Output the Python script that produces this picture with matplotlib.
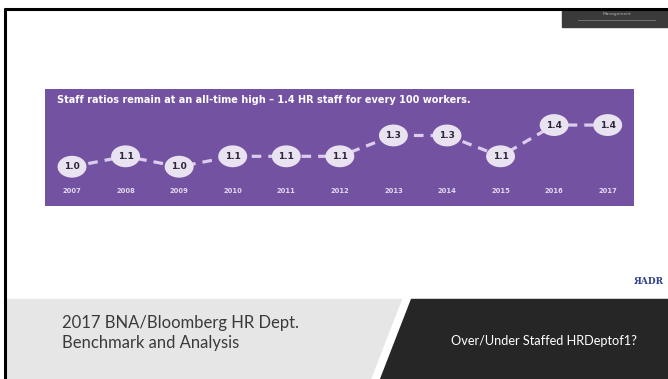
import matplotlib.pyplot as plt
from matplotlib.patches import Ellipse, Polygon, Rectangle

years = [2007, 2008, 2009, 2010, 2011, 2012, 2013, 2014, 2015, 2016, 2017]
ratios = [1.0, 1.1, 1.0, 1.1, 1.1, 1.1, 1.3, 1.3, 1.1, 1.4, 1.4]
chart_title = "Staff ratios remain at an all-time high \u2013 1.4 HR staff for every 100 workers."
slide_title = "2017 BNA/Bloomberg HR Dept.\nBenchmark and Analysis"
slide_tag = "Over/Under Staffed HRDeptof1?"

W, H = 668, 379
fig = plt.figure(figsize=(W / 100, H / 100), dpi=100)
fig.patch.set_facecolor("white")

# slide decorations, pixel coordinates
bg = fig.add_axes([0, 0, 1, 1])
bg.set_xlim(0, W)
bg.set_ylim(H, 0)
bg.axis("off")
bg.plot([4, W], [8.5, 8.5], color="black", lw=2.2, solid_capstyle="butt")
bg.plot([5, 5], [8, H], color="black", lw=2.2, solid_capstyle="butt")
bg.add_patch(Rectangle((562, 10), W - 562, 17, color="#3a3a3a"))
bg.plot([578, 655], [19.5, 19.5], color="#7a7a7a", lw=0.6)
bg.text(617, 14.5, "Management", color="#b0b0b0", fontsize=3.2, ha="center", va="center")

bg.add_patch(Rectangle((6, 299), W - 6, H - 299, color="#e6e6e6"))
bg.add_patch(Polygon([(403, 299), (411, 299), (380, H), (372, H)], color="white"))
bg.add_patch(Polygon([(411, 299), (W, 299), (W, H), (380, H)], color="#262626"))
bg.text(62, 333, slide_title, color="#3a3a3a", fontsize=12, family="Lato",
        ha="left", va="center", linespacing=1.3)
bg.text(451, 341, slide_tag, color="white", fontsize=9.2, family="Lato",
        ha="left", va="center")
bg.text(649, 281, "\u042fADR", color="#2b3f8c", fontsize=6.5, family="DejaVu Serif",
        fontweight="bold", ha="center", va="center")

# purple chart panel
ax = fig.add_axes([45 / W, 1 - 206 / H, 589 / W, 117 / H])
ax.set_facecolor("#7352a1")
ax.set_xlim(2006.496, 2017.491)
ax.set_ylim(0.623, 1.746)
for s in ax.spines.values():
    s.set_visible(False)
ax.set_xticks([])
ax.set_yticks([])

ax.plot(years, ratios, color="#dccdee", lw=2.3, dashes=(3, 2.2), zorder=2)
for x, v in zip(years, ratios):
    ax.add_patch(Ellipse((x, v), 0.54, 0.21, facecolor="#e9e3f1", edgecolor="none", zorder=3))
    ax.text(x, v, f"{v:.1f}", color="#2d2638", fontsize=6.5, fontweight="bold",
            ha="center", va="center", zorder=4)
    ax.text(x, 0.131, str(x), transform=ax.get_xaxis_transform(), color="#e3d9f0",
            fontsize=4.9, fontweight="bold", ha="center", va="center")

ax.text(12 / 589, 0.906, chart_title, transform=ax.transAxes, color="white",
        fontsize=7.0, fontweight="bold", ha="left", va="center")

fig.savefig("out.png", dpi=100)
